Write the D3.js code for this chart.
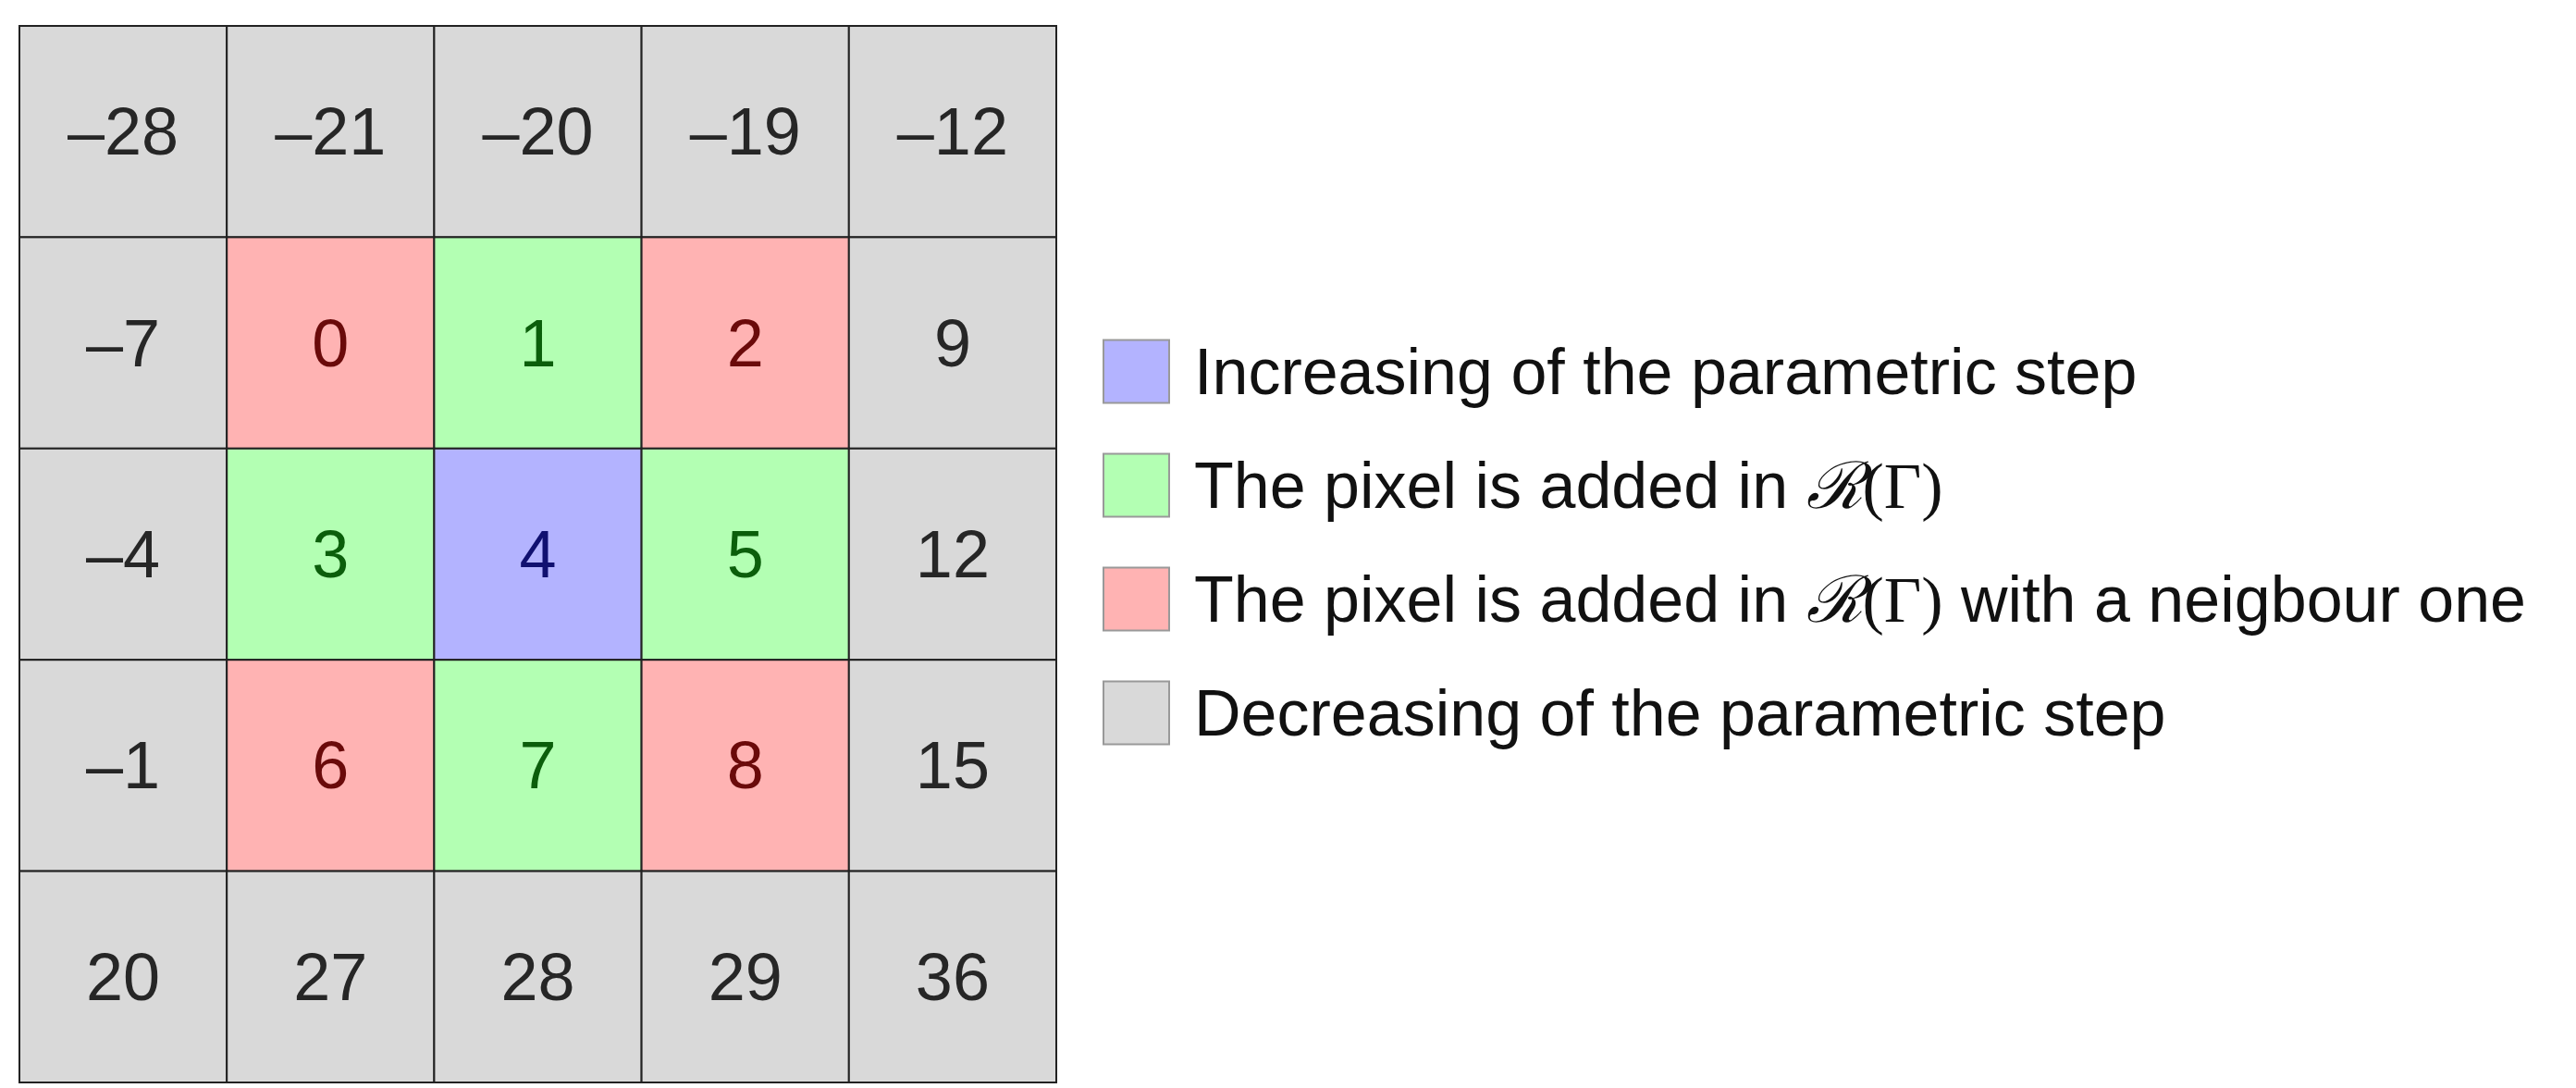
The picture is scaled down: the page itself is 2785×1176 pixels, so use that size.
<!DOCTYPE html>
<html>
<head>
<meta charset="utf-8">
<script src="https://cdn.jsdelivr.net/npm/d3@7"></script>
<style>
  body { margin: 0; background: #fff; }
  svg { display: block; }
</style>
</head>
<body>
<div id="chart"></div>
<script>
// cell values, row by row
const cellValues = [
    [-28, -21, -20, -19, -12],
    [-7, 0, 1, 2, 9],
    [-4, 3, 4, 5, 12],
    [-1, 6, 7, 8, 15],
    [20, 27, 28, 29, 36]
];
// cell category: d = decreasing, i = increasing, a = added, n = added with neighbour
const cellTypes = [
    ["d", "d", "d", "d", "d"],
    ["d", "n", "a", "n", "d"],
    ["d", "a", "i", "a", "d"],
    ["d", "n", "a", "n", "d"],
    ["d", "d", "d", "d", "d"]
];
const legendKeys = ["i", "a", "n", "d"];
const legendLabels = [
    ["Increasing of the parametric step"],
    ["The pixel is added in ", "R", ""],
    ["The pixel is added in ", "R", " with a neigbour one"],
    ["Decreasing of the parametric step"]
];

const fillColor = {d: "#d9d9d9", i: "#b3b3ff", a: "#b3ffb3", n: "#ffb3b3"};
const textColor = {d: "#262626", i: "#101070", a: "#0b5e0b", n: "#6a0a0a"};

const width = 2785, height = 1176;
const svg = d3.select("#chart").append("svg")
    .attr("width", width)
    .attr("height", height);

const cols = d3.range(5);
const x = d3.scaleBand().domain(cols).range([21, 1142]);
const y = d3.scaleBand().domain(cols).range([28, 1170]);

const cells = [];
cellValues.forEach((row, r) => row.forEach((v, c) => cells.push({r, c, v, t: cellTypes[r][c]})));

const g = svg.append("g");
g.selectAll("rect").data(cells).enter().append("rect")
    .attr("x", d => x(d.c))
    .attr("y", d => y(d.r))
    .attr("width", x.bandwidth())
    .attr("height", y.bandwidth())
    .attr("fill", d => fillColor[d.t])
    .attr("stroke", "#222")
    .attr("stroke-width", 2);

g.selectAll("text").data(cells).enter().append("text")
    .attr("x", d => x(d.c) + x.bandwidth() / 2)
    .attr("y", d => y(d.r) + y.bandwidth() / 2)
    .attr("text-anchor", "middle")
    .attr("dominant-baseline", "central")
    .attr("font-family", "Liberation Sans, Arial, sans-serif")
    .attr("font-size", 72)
    .attr("fill", d => textColor[d.t])
    .text(d => d.v < 0 ? "\u2013" + Math.abs(d.v) : d.v);

// legend
const ly = d3.scaleBand().domain(legendKeys).range([340, 832]);
const legend = svg.append("g");
const item = legend.selectAll("g").data(legendKeys).enter().append("g")
    .attr("transform", d => `translate(1193,${ly(d)})`);

item.append("rect")
    .attr("x", 0)
    .attr("y", (ly.bandwidth() - 68) / 2)
    .attr("width", 71)
    .attr("height", 68)
    .attr("fill", d => fillColor[d])
    .attr("stroke", "#999")
    .attr("stroke-width", 2);

item.each(function(d, i) {
    const t = d3.select(this).append("text")
        .attr("x", 98)
        .attr("y", ly.bandwidth() / 2)
        .attr("dominant-baseline", "central")
        .attr("font-family", "Liberation Sans, Arial, sans-serif")
        .attr("font-size", 70)
        .attr("fill", "#111");
    const parts = legendLabels[i];
    t.append("tspan").text(parts[0]);
    if (parts.length > 1) {
        t.append("tspan")
            .attr("font-family", "Liberation Serif, DejaVu Serif, serif")
            .attr("font-style", "italic")
            .text("\u211B");
        t.append("tspan")
            .attr("font-family", "Liberation Serif, DejaVu Serif, serif")
            .text("(\u0393)");
        t.append("tspan").text(parts[2]);
    }
});
</script>
</body>
</html>
